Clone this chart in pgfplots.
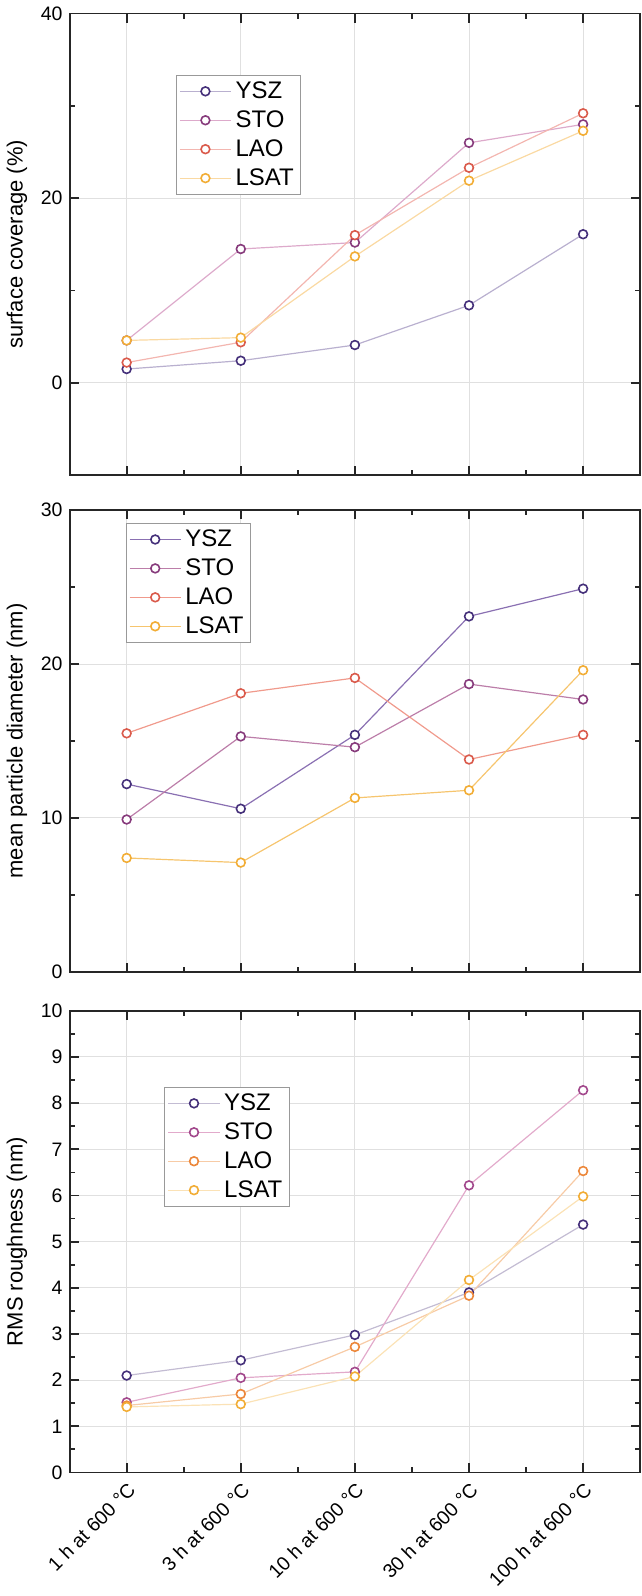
\documentclass[border=0pt]{standalone}
\usepackage{pgfplots}
\pgfplotsset{compat=1.18}
\usepackage{fontspec}
\setmainfont{Liberation Sans}

\definecolor{mYSZ}{HTML}{45307A}
\definecolor{mSTO}{HTML}{873B7C}
\definecolor{mLAO}{HTML}{DA5A4B}
\definecolor{mLSAT}{HTML}{F2AD35}
\definecolor{mLAOc}{HTML}{EC873A}
\definecolor{mSTOc}{HTML}{A2488C}
% light line colours
\definecolor{lYSZa}{HTML}{B9B0CF}
\definecolor{lSTOa}{HTML}{DDAACB}
\definecolor{lLAOa}{HTML}{F3B6B0}
\definecolor{lLSATa}{HTML}{FAD9A2}
\definecolor{lYSZb}{HTML}{8A70B2}
\definecolor{lSTOb}{HTML}{BC7EA9}
\definecolor{lLAOb}{HTML}{F09A8C}
\definecolor{lLSATb}{HTML}{F6C56E}
\definecolor{lYSZc}{HTML}{C3BCD3}
\definecolor{lSTOc}{HTML}{E2AACB}
\definecolor{lLAOc}{HTML}{F7CBA6}
\definecolor{lLSATc}{HTML}{FBE2B6}

\pgfplotsset{
  base/.style={
    scale only axis, width=285.5pt, height=231pt,
    xmin=-0.5, xmax=4.5, xtick={0,1,2,3,4}, minor x tick num=1,
    grid=major, major grid style={draw=black!12, line width=0.5pt},
    axis line style={line width=0.9pt, draw=black!85},
    every tick/.style={black!85, line width=0.9pt},
    major tick length=4.5pt, minor tick length=2.5pt,
    tick label style={font=\fontsize{9.75}{11}\selectfont},
    label style={font=\fontsize{11}{13}\selectfont},
    /pgf/number format/assume math mode=true,
    legend cell align=left,
    legend style={draw=black!40, line width=0.5pt, fill=white,
      font=\fontsize{12}{14}\selectfont, row sep=0.6pt, inner xsep=1.5pt, inner ysep=1pt,
      nodes={inner xsep=2pt}},
    legend image code/.code={\draw[mark repeat=2,mark phase=2] plot coordinates {(0cm,0cm) (0.45cm,0cm) (0.9cm,0cm)};},
  },
  ser/.style 2 args={color=#1, line width=0.6pt, mark=*, mark size=2.2pt,
    mark options={draw=#2, fill=white, line width=0.8pt}},
}

\begin{document}
\begin{tikzpicture}
% ---------- Panel 1 ----------
\begin{axis}[base, at={(0,0)}, anchor=north west,
  ymin=-10, ymax=40, ytick={0,20,40}, minor y tick num=1,
  xticklabels={},
  ylabel={surface coverage (\%)},
  legend style={at={(0.186,0.867)}, anchor=north west}]
\addplot[ser={lYSZa}{mYSZ}] coordinates {(0,1.5) (1,2.4) (2,4.1) (3,8.4) (4,16.1)};
\addplot[ser={lSTOa}{mSTO}] coordinates {(0,4.6) (1,14.5) (2,15.2) (3,26.0) (4,28.0)};
\addplot[ser={lLAOa}{mLAO}] coordinates {(0,2.2) (1,4.4) (2,16.0) (3,23.3) (4,29.2)};
\addplot[ser={lLSATa}{mLSAT}] coordinates {(0,4.6) (1,4.9) (2,13.7) (3,21.9) (4,27.3)};
\legend{YSZ,STO,LAO,LSAT}
\end{axis}
% ---------- Panel 2 ----------
\begin{axis}[base, at={(0,-248.5pt)}, anchor=north west,
  ymin=0, ymax=30, ytick={0,10,20,30}, minor y tick num=1,
  xticklabels={},
  ylabel={mean particle diameter (nm)},
  legend style={at={(0.098,0.972)}, anchor=north west}]
\addplot[ser={lYSZb}{mYSZ}] coordinates {(0,12.2) (1,10.6) (2,15.4) (3,23.1) (4,24.9)};
\addplot[ser={lSTOb}{mSTO}] coordinates {(0,9.9) (1,15.3) (2,14.6) (3,18.7) (4,17.7)};
\addplot[ser={lLAOb}{mLAO}] coordinates {(0,15.5) (1,18.1) (2,19.1) (3,13.8) (4,15.4)};
\addplot[ser={lLSATb}{mLSAT}] coordinates {(0,7.4) (1,7.1) (2,11.3) (3,11.8) (4,19.6)};
\legend{YSZ,STO,LAO,LSAT}
\end{axis}
% ---------- Panel 3 ----------
\begin{axis}[base, at={(0,-499pt)}, anchor=north west,
  ymin=0, ymax=10, ytick={0,1,...,10}, minor y tick num=1,
  xticklabels={1 h at 600 °C, 3 h at 600 °C, 10 h at 600 °C, 30 h at 600 °C, 100 h at 600 °C},
  xticklabel style={rotate=45, anchor=north east, inner sep=3pt},
  ylabel={RMS roughness (nm)},
  legend style={at={(0.166,0.835)}, anchor=north west}]
\addplot[ser={lYSZc}{mYSZ}] coordinates {(0,2.1) (1,2.43) (2,2.98) (3,3.9) (4,5.37)};
\addplot[ser={lSTOc}{mSTOc}] coordinates {(0,1.52) (1,2.05) (2,2.18) (3,6.22) (4,8.28)};
\addplot[ser={lLAOc}{mLAOc}] coordinates {(0,1.45) (1,1.7) (2,2.72) (3,3.83) (4,6.53)};
\addplot[ser={lLSATc}{mLSAT}] coordinates {(0,1.42) (1,1.48) (2,2.08) (3,4.17) (4,5.98)};
\legend{YSZ,STO,LAO,LSAT}
\end{axis}
\end{tikzpicture}
\end{document}
